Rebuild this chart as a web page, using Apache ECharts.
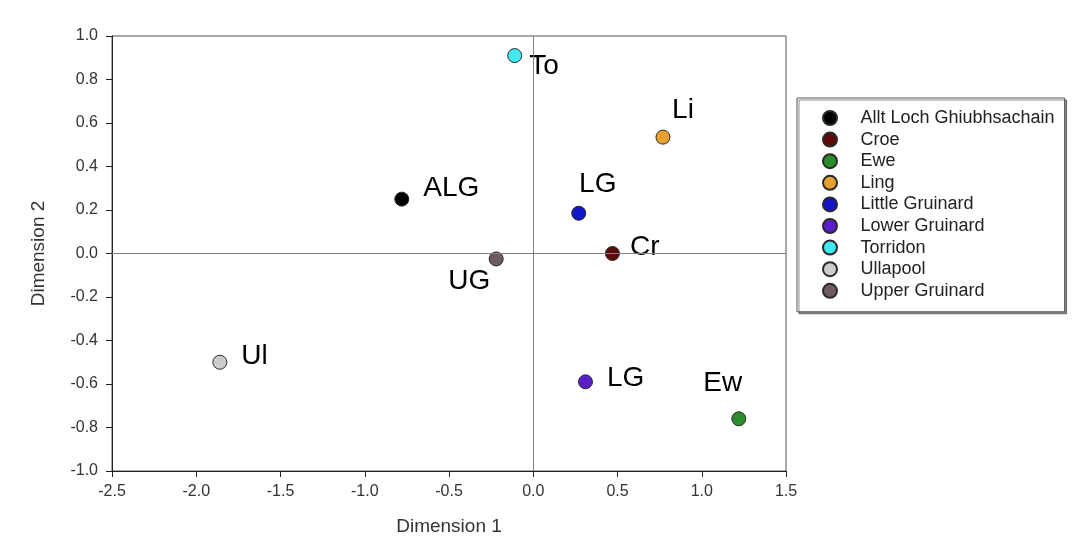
<!DOCTYPE html>
<html>
<head>
<meta charset="utf-8">
<script src="https://cdn.jsdelivr.net/npm/echarts@6/dist/echarts.min.js"></script>
<style>
html,body{margin:0;padding:0;background:#fff;}
#chart{width:1081px;height:545px;}
</style>
</head>
<body>
<div id="chart"></div>
<script>
// Site names (legend), short point labels, coordinates, colours
const siteNames = ['Allt Loch Ghiubhsachain','Croe','Ewe','Ling','Little Gruinard','Lower Gruinard','Torridon','Ullapool','Upper Gruinard'];
const shortLabels = ['ALG','Cr','Ew','Li','LG','LG','To','Ul','UG'];
const dim1 = [-0.78, 0.47, 1.22, 0.77, 0.27, 0.31, -0.11, -1.86, -0.22];
const dim2 = [0.25, 0.00, -0.76, 0.535, 0.185, -0.59, 0.91, -0.50, -0.025];
const siteColors = ['#000000','#5c0a0a','#2a8c2a','#e8a030','#1414c8','#5a1ec8','#40e8f0','#cccccc','#6e5a60'];
const xTicks = {min:-2.5, max:1.5, interval:0.5};
const yTicks = {min:-1.0, max:1.0, interval:0.2};

// label placement per point (styling only)
const labelPlace = [
  {position:'right', distance:14, offset:[0,-11]},
  {position:'right', distance:10, offset:[0,-6]},
  {position:'top', distance:5, offset:[-16,-9]},
  {position:'top', distance:5, offset:[20,0]},
  {position:'top', distance:5, offset:[19,-2]},
  {position:'right', distance:14, offset:[0,-4]},
  {position:'right', distance:7, offset:[0,11]},
  {position:'right', distance:14, offset:[0,-6]},
  {position:'bottom', distance:5, offset:[-27,-4]}
];

const chart = echarts.init(document.getElementById('chart'), null, {renderer:'canvas'});
const FONT = 'Liberation Sans, Arial, sans-serif';

const series = siteNames.map((name, i) => ({
  name: name,
  type: 'scatter',
  symbol: 'circle',
  symbolSize: 14,
  data: [[dim1[i], dim2[i]]],
  itemStyle: {color: siteColors[i], borderColor: '#2a2a2a', borderWidth: 1, opacity: 1},
  label: Object.assign({
    show: true,
    formatter: shortLabels[i],
    color: '#000',
    fontSize: 28,
    fontFamily: FONT
  }, labelPlace[i]),
  emphasis: {disabled: true},
  z: 3
}));

series.push({
  name: '_zero',
  type: 'scatter',
  data: [],
  silent: true,
  markLine: {
    silent: true,
    symbol: 'none',
    label: {show: false},
    lineStyle: {color: '#808080', width: 1, type: 'solid'},
    data: [{xAxis: 0}, {yAxis: 0}],
    animation: false
  },
  z: 1
});

chart.setOption({
  animation: false,
  backgroundColor: '#ffffff',
  grid: {left: 112, right: 295, top: 36, bottom: 74, show: true, borderColor: '#555', borderWidth: 1},
  xAxis: {
    type: 'value',
    min: xTicks.min, max: xTicks.max, interval: xTicks.interval,
    name: 'Dimension 1',
    nameLocation: 'middle',
    nameGap: 46,
    nameTextStyle: {fontSize: 19, color: '#333', fontFamily: FONT},
    axisLine: {show: true, onZero: false, lineStyle: {color: '#222', width: 1}},
    axisTick: {show: true, inside: false, length: 6, lineStyle: {color: '#222'}},
    axisLabel: {fontSize: 16, color: '#333', fontFamily: FONT, margin: 13, formatter: v => v.toFixed(1)},
    splitLine: {show: false}
  },
  yAxis: {
    type: 'value',
    min: yTicks.min, max: yTicks.max, interval: yTicks.interval,
    name: 'Dimension 2',
    nameLocation: 'middle',
    nameGap: 64,
    nameTextStyle: {fontSize: 19, color: '#333', fontFamily: FONT},
    axisLine: {show: true, onZero: false, lineStyle: {color: '#222', width: 1}},
    axisTick: {show: true, inside: false, length: 6, lineStyle: {color: '#222'}},
    axisLabel: {fontSize: 16, color: '#333', fontFamily: FONT, margin: 14, formatter: v => v.toFixed(1)},
    splitLine: {show: false}
  },
  legend: {
    data: siteNames,
    orient: 'vertical',
    left: 797,
    top: 98,
    padding: [11, 10, 12, 25],
    itemWidth: 15,
    itemHeight: 14,
    itemGap: 3.6,
    icon: 'circle',
    borderColor: '#555',
    borderWidth: 1,
    backgroundColor: '#fff',
    shadowColor: 'rgba(0,0,0,0.45)',
    shadowOffsetX: 2,
    shadowOffsetY: 2,
    shadowBlur: 0,
    selectedMode: false,
    textStyle: {fontSize: 18, lineHeight: 18, color: '#222', fontFamily: FONT, padding: [0, 0, 0, 18]}
  },
  series: series
});
</script>
</body>
</html>
